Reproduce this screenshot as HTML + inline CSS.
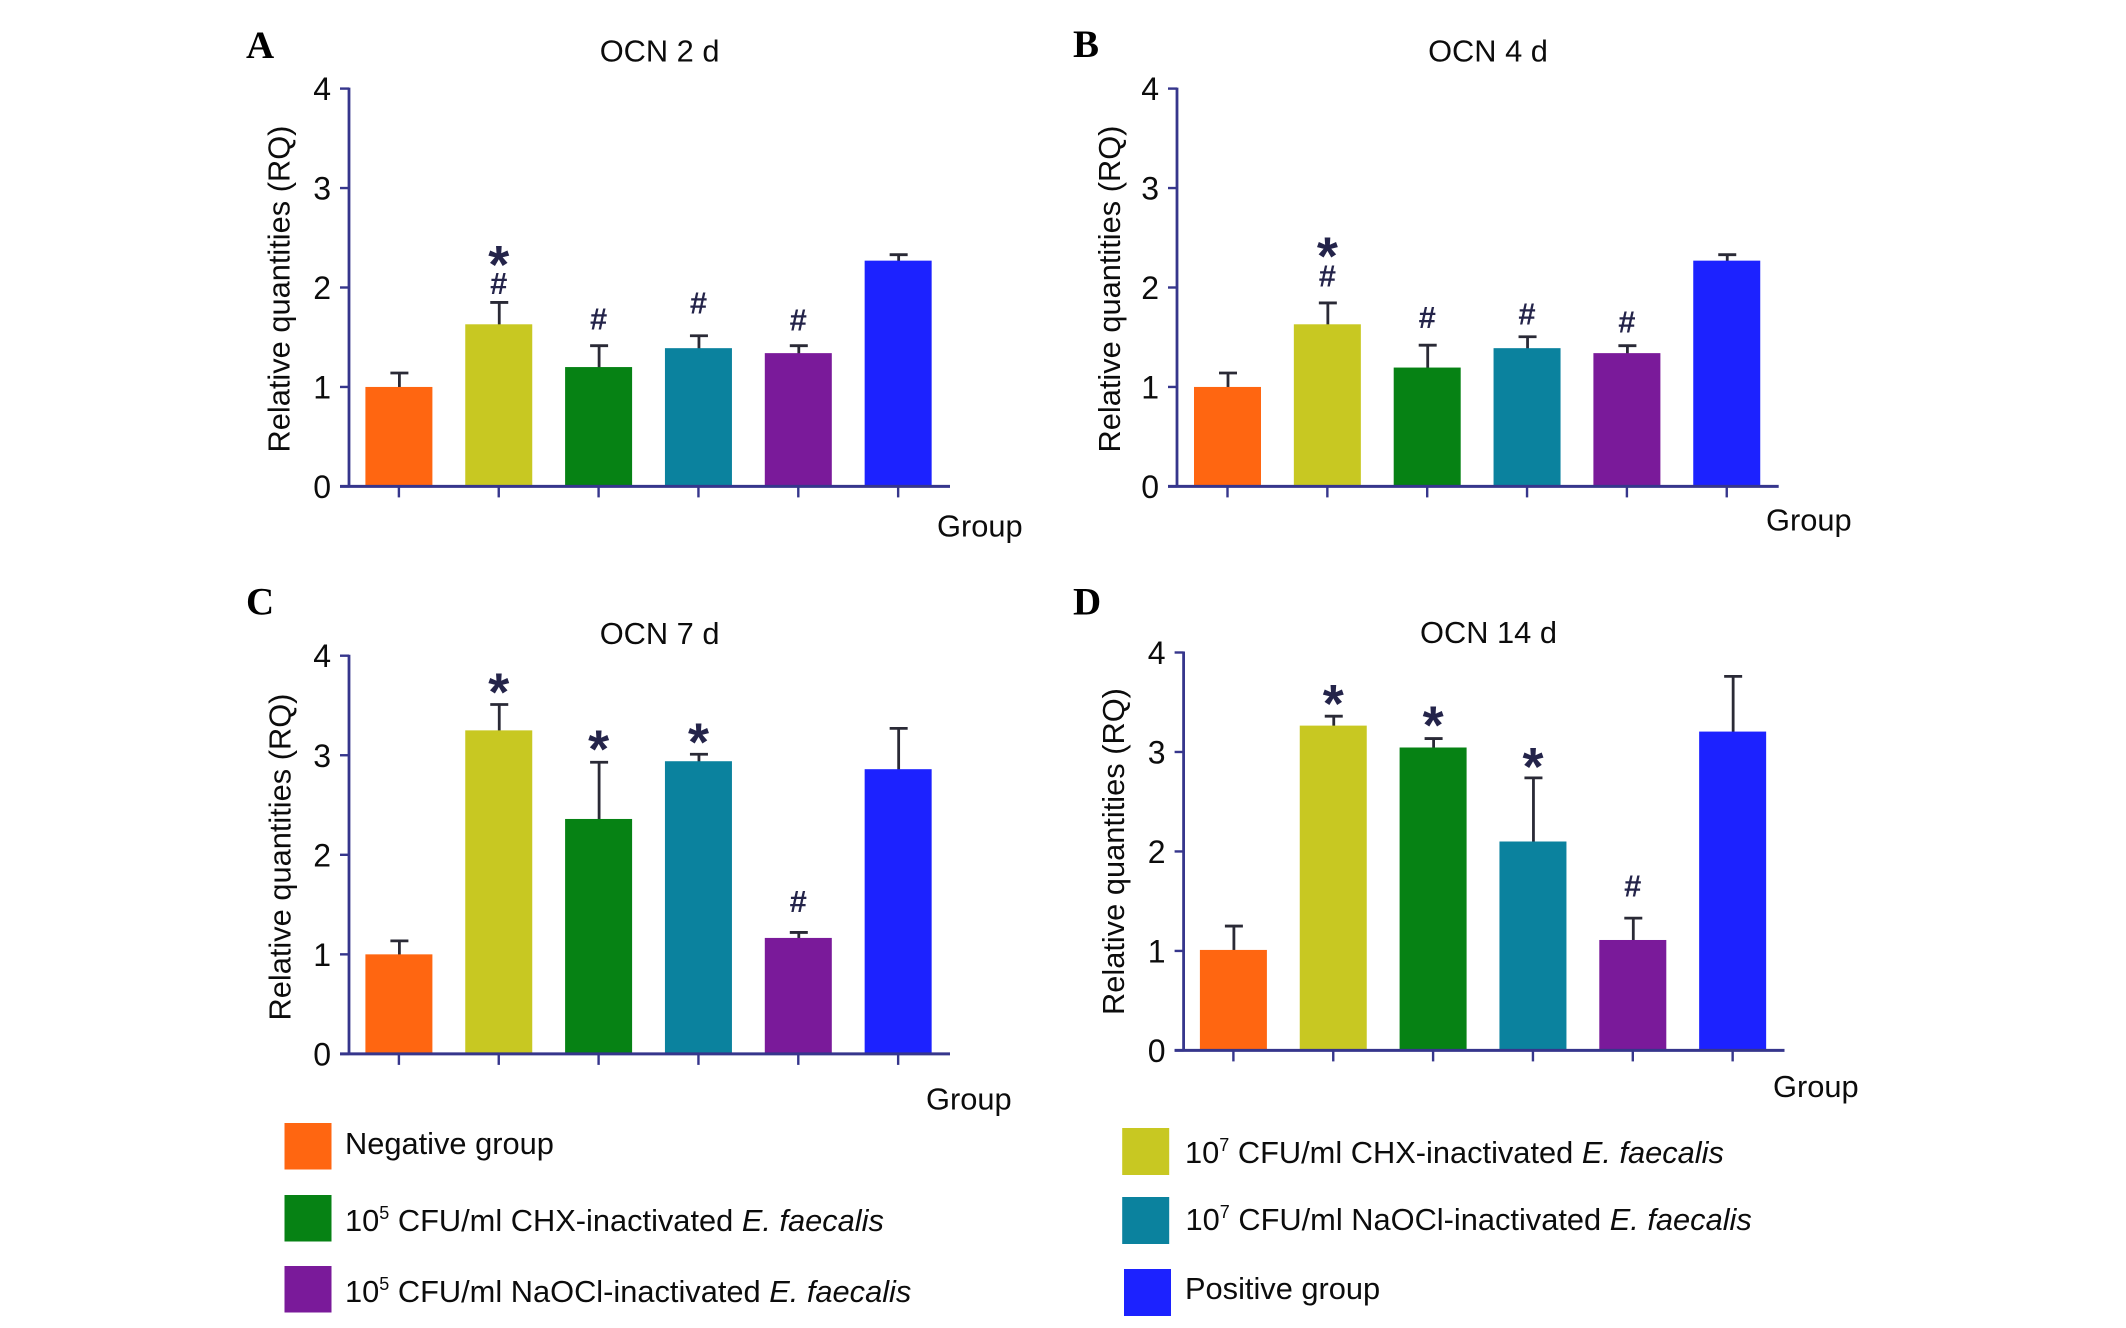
<!DOCTYPE html>
<html>
<head>
<meta charset="utf-8">
<title>OCN expression panels</title>
<style>
html,body{margin:0;padding:0;background:#fff;}
svg{display:block;}
text{font-family:"Liberation Sans",sans-serif;fill:#0c0c0c;}
.letter{font-family:"Liberation Serif",serif;font-weight:bold;font-size:39px;fill:#000;}
.legend-text{font-size:30.8px;}
</style>
</head>
<body>
<svg id="figure" xmlns="http://www.w3.org/2000/svg" width="2126" height="1328" viewBox="0 0 2126 1328">
  <g>
    <rect x="284.5" y="1123" width="47" height="46.5" fill="#ff6611"/>
    <text class="legend-text" x="345" y="1154">Negative group</text>
    <rect x="284.5" y="1195" width="47" height="46.5" fill="#068214"/>
    <text class="legend-text" x="345" y="1231">10<tspan font-size="18" dy="-12">5</tspan><tspan dy="12"> CFU/ml CHX-inactivated </tspan><tspan font-style="italic">E. faecalis</tspan></text>
    <rect x="284.5" y="1266" width="47" height="46.5" fill="#7a1a9a"/>
    <text class="legend-text" x="345" y="1302">10<tspan font-size="18" dy="-12">5</tspan><tspan dy="12"> CFU/ml NaOCl-inactivated </tspan><tspan font-style="italic">E. faecalis</tspan></text>
    <rect x="1122.2" y="1128" width="47" height="47" fill="#c8c822"/>
    <text class="legend-text" x="1185" y="1163">10<tspan font-size="18" dy="-12">7</tspan><tspan dy="12"> CFU/ml CHX-inactivated </tspan><tspan font-style="italic">E. faecalis</tspan></text>
    <rect x="1122.2" y="1197" width="47" height="47" fill="#0b829e"/>
    <text class="legend-text" x="1185.5" y="1230">10<tspan font-size="18" dy="-12">7</tspan><tspan dy="12"> CFU/ml NaOCl-inactivated </tspan><tspan font-style="italic">E. faecalis</tspan></text>
    <rect x="1124" y="1269" width="47" height="47" fill="#1c22ff"/>
    <text class="legend-text" x="1185" y="1299">Positive group</text>
  </g>
</svg>
<script>
// Categories and bar colours
var categories = ['negative', 'chx-10-5-low', 'chx-10-7', 'naocl-10-7', 'naocl-10-5', 'positive'];
var barColors = ['#ff6611', '#c8c822', '#068214', '#0b829e', '#7a1a9a', '#1c22ff'];
var yTicks = [0, 1, 2, 3, 4];

// Panel A: OCN 2 d
var valuesA = [1.00, 1.63, 1.20, 1.39, 1.34, 2.27];
var errorTopsA = [1.14, 1.85, 1.415, 1.515, 1.415, 2.33];
var hashLevelsA = [null, 1.946, 1.587, 1.749, 1.58, null];
var starLevelsA = [null, 2.316, null, null, null, null];

// Panel B: OCN 4 d
var valuesB = [1.00, 1.63, 1.195, 1.39, 1.34, 2.27];
var errorTopsB = [1.14, 1.845, 1.42, 1.505, 1.415, 2.33];
var hashLevelsB = [null, 2.018, 1.605, 1.64, 1.558, null];
var starLevelsB = [null, 2.40, null, null, null, null];

// Panel C: OCN 7 d
var valuesC = [1.00, 3.25, 2.36, 2.94, 1.165, 2.86];
var errorTopsC = [1.135, 3.51, 2.93, 3.01, 1.22, 3.27];
var hashLevelsC = [null, null, null, null, 1.435, null];
var starLevelsC = [null, 3.72, 3.146, 3.22, null, null];

// Panel D: OCN 14 d
var valuesD = [1.01, 3.265, 3.045, 2.10, 1.11, 3.205];
var errorTopsD = [1.25, 3.36, 3.135, 2.74, 1.33, 3.76];
var hashLevelsD = [null, null, null, null, 1.555, null];
var starLevelsD = [null, 3.573, 3.357, 2.937, null, null];

var panels = [
  {id:'a', letter:'A', letterX:246, letterY:58, title:'OCN 2 d', titleX:659.6, titleY:61.5,
   axisX:349, topY:88.6, zeroY:486.4, rightX:950, firstX:398.9, groupX:937, groupY:536.5,
   yTitleX:289.5, yTitleY:452.5, values:valuesA, errors:errorTopsA, hashes:hashLevelsA, stars:starLevelsA},
  {id:'b', letter:'B', letterX:1073, letterY:57, title:'OCN 4 d', titleX:1488, titleY:61.5,
   axisX:1177, topY:88.6, zeroY:486.4, rightX:1778.7, firstX:1227.5, groupX:1766, groupY:530.5,
   yTitleX:1120, yTitleY:452.5, values:valuesB, errors:errorTopsB, hashes:hashLevelsB, stars:starLevelsB},
  {id:'c', letter:'C', letterX:246, letterY:614.6, title:'OCN 7 d', titleX:659.6, titleY:644,
   axisX:349, topY:655.7, zeroY:1053.9, rightX:950, firstX:398.9, groupX:926, groupY:1109.5,
   yTitleX:290.5, yTitleY:1020.5, values:valuesC, errors:errorTopsC, hashes:hashLevelsC, stars:starLevelsC},
  {id:'d', letter:'D', letterX:1073, letterY:614.6, title:'OCN 14 d', titleX:1488.5, titleY:643,
   axisX:1183.6, topY:652.5, zeroY:1050.4, rightX:1784.5, firstX:1233.4, groupX:1773, groupY:1097,
   yTitleX:1124, yTitleY:1015, values:valuesD, errors:errorTopsD, hashes:hashLevelsD, stars:starLevelsD}
];

var NS = 'http://www.w3.org/2000/svg';
var STEP = 99.85, BAR_W = 67, AXIS = '#36368c', ERR = '#2a2a36', MARK = '#24244a';
var figure = document.getElementById('figure');

function svgEl(tag, parent, props) {
  var el = document.createElementNS(NS, tag);
  for (var k in props) { el.setAttribute(k, props[k]); }
  parent.appendChild(el);
  return el;
}

panels.forEach(function (p) {
  function yScale(v) { return p.zeroY - (v / 4) * (p.zeroY - p.topY); }
  function xScale(i) { return p.firstX + i * STEP; }

  var g = svgEl('g', figure, {});
  
  

  var letter = svgEl('text', g, {x: p.letterX, y: p.letterY, 'class': 'letter'});
  letter.textContent = p.letter;
  
  

  var title = svgEl('text', g, {x: p.titleX, y: p.titleY, 'text-anchor': 'middle', 'font-size': 30.8});
  title.textContent = p.title;
  
  

  var yTitle = svgEl('text', g, {transform: 'translate(' + p.yTitleX + ',' + p.yTitleY + ') rotate(-90)', 'font-size': 30.8});
  yTitle.textContent = 'Relative quantities (RQ)';
  
  

  var xTitle = svgEl('text', g, {x: p.groupX, y: p.groupY, 'font-size': 30.8});
  xTitle.textContent = 'Group';
  
  

  categories.forEach(function (cat, i) {
    var top = yScale(p.values[i]);
    var cx = xScale(i);

    var stem = svgEl('line', g, {x1: cx + 0.5, x2: cx + 0.5, y1: top + 2, y2: yScale(p.errors[i]), stroke: ERR, 'stroke-width': 2.8});
    
    

    var cap = svgEl('line', g, {x1: cx - 8.5, x2: cx + 9.5, y1: yScale(p.errors[i]), y2: yScale(p.errors[i]), stroke: ERR, 'stroke-width': 2.8});
    
    

    var bar = svgEl('rect', g, {x: cx - BAR_W / 2, y: top, width: BAR_W, height: p.zeroY - top, fill: barColors[i]});
    
    

    var tick = svgEl('line', g, {x1: cx, x2: cx, y1: p.zeroY, y2: p.zeroY + 11, stroke: AXIS, 'stroke-width': 2.4});
    
    

    if (p.hashes[i] !== null) {
      var hash = svgEl('text', g, {x: cx, y: yScale(p.hashes[i]) + 1, 'text-anchor': 'middle', 'font-size': 31, 'font-weight': 'bold', style: 'fill:' + MARK});
      hash.textContent = '#';
      
      
    }
    if (p.stars[i] !== null) {
      var star = svgEl('text', g, {x: cx, y: yScale(p.stars[i]) + 27, 'text-anchor': 'middle', 'font-size': 54, 'font-weight': 'bold', style: 'fill:' + MARK});
      star.textContent = '*';
      
      
    }
  });

  yTicks.forEach(function (t) {
    var tk = svgEl('line', g, {x1: p.axisX - 9, x2: p.axisX, y1: yScale(t), y2: yScale(t), stroke: AXIS, 'stroke-width': 2.4});
    
    

    var lb = svgEl('text', g, {x: p.axisX - 18, y: yScale(t) + 11.5, 'text-anchor': 'end', 'font-size': 32});
    lb.textContent = String(t);
    
    
  });

  var yAxis = svgEl('line', g, {x1: p.axisX, x2: p.axisX, y1: p.topY - 1, y2: p.zeroY, stroke: AXIS, 'stroke-width': 2.8});
  
  

  var xAxis = svgEl('line', g, {x1: p.axisX - 9, x2: p.rightX, y1: p.zeroY, y2: p.zeroY, stroke: AXIS, 'stroke-width': 3});
  
  
});
</script>
</body>
</html>
